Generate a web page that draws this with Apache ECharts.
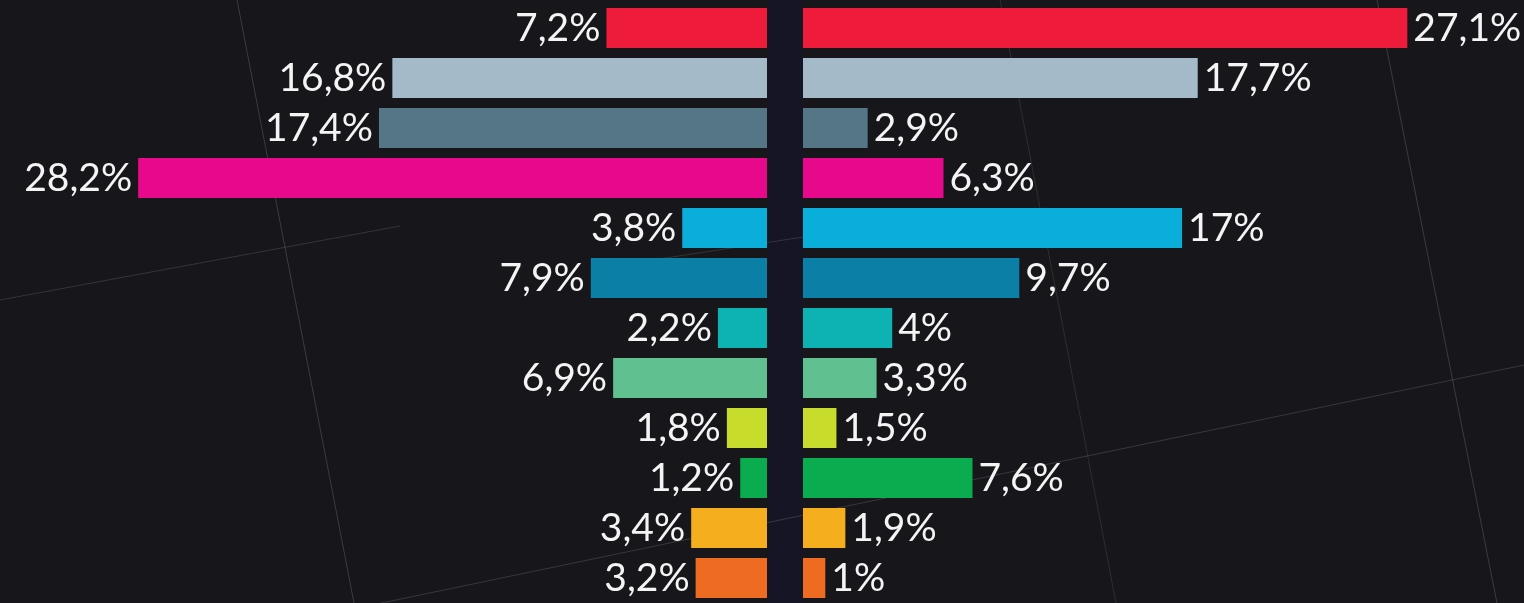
<!DOCTYPE html>
<html>
<head>
<meta charset="utf-8">
<style>
  html, body { margin: 0; padding: 0; background: #17161b; }
  #chart { width: 1524px; height: 603px; }
</style>
<script src="https://cdn.jsdelivr.net/npm/echarts@6/dist/echarts.min.js"></script>
</head>
<body>
<div id="chart"></div>
<script>
// rows, top to bottom
var rows = ['r1', 'r2', 'r3', 'r4', 'r5', 'r6', 'r7', 'r8', 'r9', 'r10', 'r11', 'r12'];
var leftValues = [7.2, 16.8, 17.4, 28.2, 3.8, 7.9, 2.2, 6.9, 1.8, 1.2, 3.4, 3.2];
var rightValues = [27.1, 17.7, 2.9, 6.3, 17, 9.7, 4, 3.3, 1.5, 7.6, 1.9, 1];
var rowColors = ['#ee1c3a', '#a4bac9', '#557687', '#e8088c', '#0aaedb', '#0b7fa6',
                 '#0db3b3', '#61c08f', '#c8dc2c', '#0bac4f', '#f4ae1e', '#ee6c22'];

var chart = echarts.init(document.getElementById('chart'));

function fmt(p) {
    return String(p.value).replace('.', ',') + '%';
}

// faint background lines
function bgLine(x1, y1, x2, y2, op) {
    return {
        type: 'line', silent: true, z: -10,
        shape: { x1: x1, y1: y1, x2: x2, y2: y2 },
        style: { stroke: 'rgba(255,255,255,' + op + ')', lineWidth: 1 }
    };
}

var labelStyle = {
    show: true,
    color: '#f4f4f4',
    fontFamily: 'Lato, "Open Sans", sans-serif',
    fontWeight: 400,
    fontSize: 39,
    distance: 6,
    formatter: fmt
};

var option = {
    backgroundColor: '#17161b',
    animation: false,
    graphic: [
        { type: 'rect', silent: true, z: -11,
          shape: { x: 768, y: 0, width: 35, height: 603 },
          style: { fill: '#161526' } },
        bgLine(237, 0, 354, 603, 0.16),
        bgLine(0, 300, 400, 226, 0.13),
        bgLine(600, 268, 810, 236, 0.12),
        bgLine(300, 620, 1524, 365, 0.14),
        bgLine(1377, 0, 1497, 603, 0.16),
        bgLine(1000, 0, 1116, 603, 0.1)
    ],
    grid: [
        { left: 98, width: 669, top: 3, height: 600 },
        { left: 803, width: 669, top: 3, height: 600 }
    ],
    xAxis: [
        { gridIndex: 0, type: 'value', min: 0, max: 30, inverse: true, show: false },
        { gridIndex: 1, type: 'value', min: 0, max: 30, show: false }
    ],
    yAxis: [
        { gridIndex: 0, type: 'category', data: rows, inverse: true, show: false },
        { gridIndex: 1, type: 'category', data: rows, inverse: true, show: false }
    ],
    series: [
        {
            name: 'left',
            type: 'bar',
            xAxisIndex: 0,
            yAxisIndex: 0,
            data: leftValues,
            barWidth: 40,
            itemStyle: { color: function (p) { return rowColors[p.dataIndex]; } },
            label: Object.assign({ position: 'left' }, labelStyle)
        },
        {
            name: 'right',
            type: 'bar',
            xAxisIndex: 1,
            yAxisIndex: 1,
            data: rightValues,
            barWidth: 40,
            itemStyle: { color: function (p) { return rowColors[p.dataIndex]; } },
            label: Object.assign({ position: 'right' }, labelStyle)
        }
    ]
};

chart.setOption(option);
window.addEventListener('resize', function () {
    chart.resize();
});
</script>
</body>
</html>
